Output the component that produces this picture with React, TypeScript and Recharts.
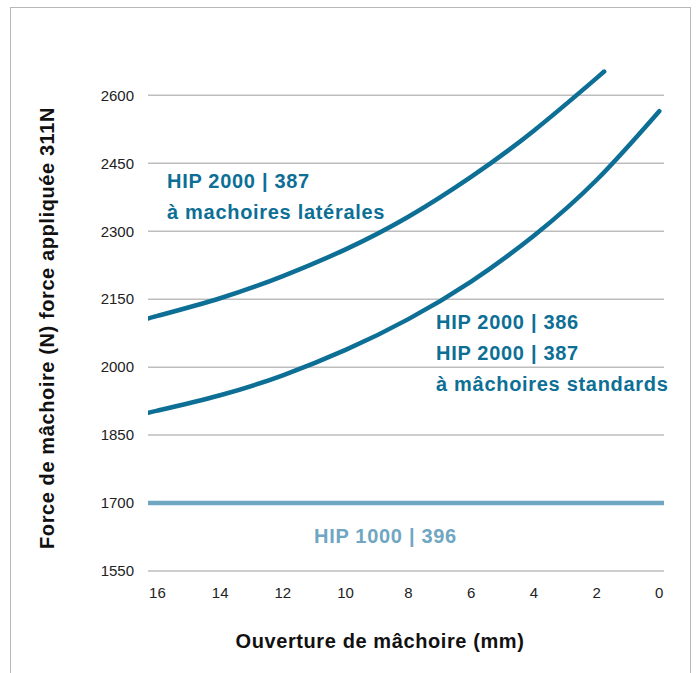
import { LineChart, Line, XAxis, YAxis, CartesianGrid } from "recharts";

// Force vs jaw opening; x axis runs from 16 mm down to 0 mm.

const lateralOpening = [16.3, 16, 14, 12, 10, 8, 6, 4, 2, 1.9];
const lateralForce = [2107, 2113, 2152, 2201, 2260, 2332, 2420, 2522, 2638, 2644];

const standardOpening = [16.3, 16, 14, 12, 10, 8, 6, 4, 2, 0];
const standardForce = [1899, 1904, 1938, 1982, 2038, 2106, 2189, 2290, 2413, 2565];

const hip1000Opening = [16.3, -0.15];
const hip1000Force = [1700, 1700];

const xTicks = [16, 14, 12, 10, 8, 6, 4, 2, 0];
const yTicks = [1550, 1700, 1850, 2000, 2150, 2300, 2450, 2600];

const toPoints = (xs: number[], ys: number[]) => xs.map((x, i) => ({ x, y: ys[i] }));

const lateral = toPoints(lateralOpening, lateralForce);
const standard = toPoints(standardOpening, standardForce);
const hip1000 = toPoints(hip1000Opening, hip1000Force);

const DARK = "#0d6f95";
const LIGHT = "#6fa6c1";
const FONT = "'Liberation Sans', Arial, sans-serif";

const labelStyle: React.CSSProperties = {
  position: "absolute",
  fontFamily: FONT,
  fontWeight: 700,
  fontSize: 20,
  letterSpacing: 0.7,
  color: DARK,
  whiteSpace: "nowrap",
  lineHeight: "31px",
};

const titleStyle: React.CSSProperties = {
  position: "absolute",
  fontFamily: FONT,
  fontWeight: 700,
  fontSize: 20,
  letterSpacing: 0.6,
  color: "#111",
  whiteSpace: "nowrap",
  lineHeight: "24px",
};

export default function App() {
  return (
    <div style={{ position: "absolute", left: 0, top: 0, width: 697, height: 673, background: "#fff" }}>
      <div
        style={{
          position: "absolute",
          left: 10,
          top: 7,
          width: 679,
          height: 680,
          borderTop: "1.5px solid #b8b8b8",
          borderLeft: "1.5px solid #b8b8b8",
          borderRight: "1.5px solid #b8b8b8",
        }}
      />
      <LineChart
        width={697}
        height={673}
        margin={{ top: 50, right: 33, bottom: 0, left: 0 }}
        style={{ position: "absolute", left: 0, top: 0 }}
      >
        <CartesianGrid vertical={false} horizontalValues={yTicks} stroke="#bdbdbd" strokeWidth={1.5} />
        <XAxis
          dataKey="x"
          type="number"
          domain={[-0.15, 16.3]}
          reversed
          ticks={xTicks}
          allowDataOverflow
          axisLine={false}
          tickLine={false}
          tickSize={0}
          tickMargin={16}
          height={102}
          tick={{ fill: "#222", fontSize: 15, fontFamily: FONT }}
        />
        <YAxis
          type="number"
          domain={[1550, 2700]}
          ticks={yTicks}
          allowDataOverflow
          axisLine={false}
          tickLine={false}
          tickSize={0}
          tickMargin={14}
          width={148}
          tick={{ fill: "#222", fontSize: 15, fontFamily: FONT }}
        />
        <Line
          data={hip1000}
          dataKey="y"
          type="linear"
          stroke={LIGHT}
          strokeWidth={4.5}
          strokeLinecap="round"
          dot={false}
          isAnimationActive={false}
        />
        <Line
          data={standard}
          dataKey="y"
          type="natural"
          stroke={DARK}
          strokeWidth={4.5}
          strokeLinecap="round"
          dot={false}
          isAnimationActive={false}
        />
        <Line
          data={lateral}
          dataKey="y"
          type="natural"
          stroke={DARK}
          strokeWidth={4.5}
          strokeLinecap="round"
          dot={false}
          isAnimationActive={false}
        />
      </LineChart>

      <div style={{ ...labelStyle, left: 167, top: 166 }}>
        HIP 2000 | 387
        <br />à machoires latérales
      </div>
      <div style={{ ...labelStyle, left: 436, top: 307 }}>
        HIP 2000 | 386
        <br />
        HIP 2000 | 387
        <br />à mâchoires standards
      </div>
      <div style={{ ...labelStyle, color: LIGHT, left: 314, top: 521 }}>HIP 1000 | 396</div>

      <div
        style={{
          ...titleStyle,
          left: 47,
          top: 328,
          transform: "translate(-50%, -50%) rotate(-90deg)",
        }}
      >
        Force de mâchoire (N) force appliquée 311N
      </div>
      <div style={{ ...titleStyle, left: 380, top: 641, transform: "translate(-50%, -50%)" }}>
        Ouverture de mâchoire (mm)
      </div>
    </div>
  );
}
